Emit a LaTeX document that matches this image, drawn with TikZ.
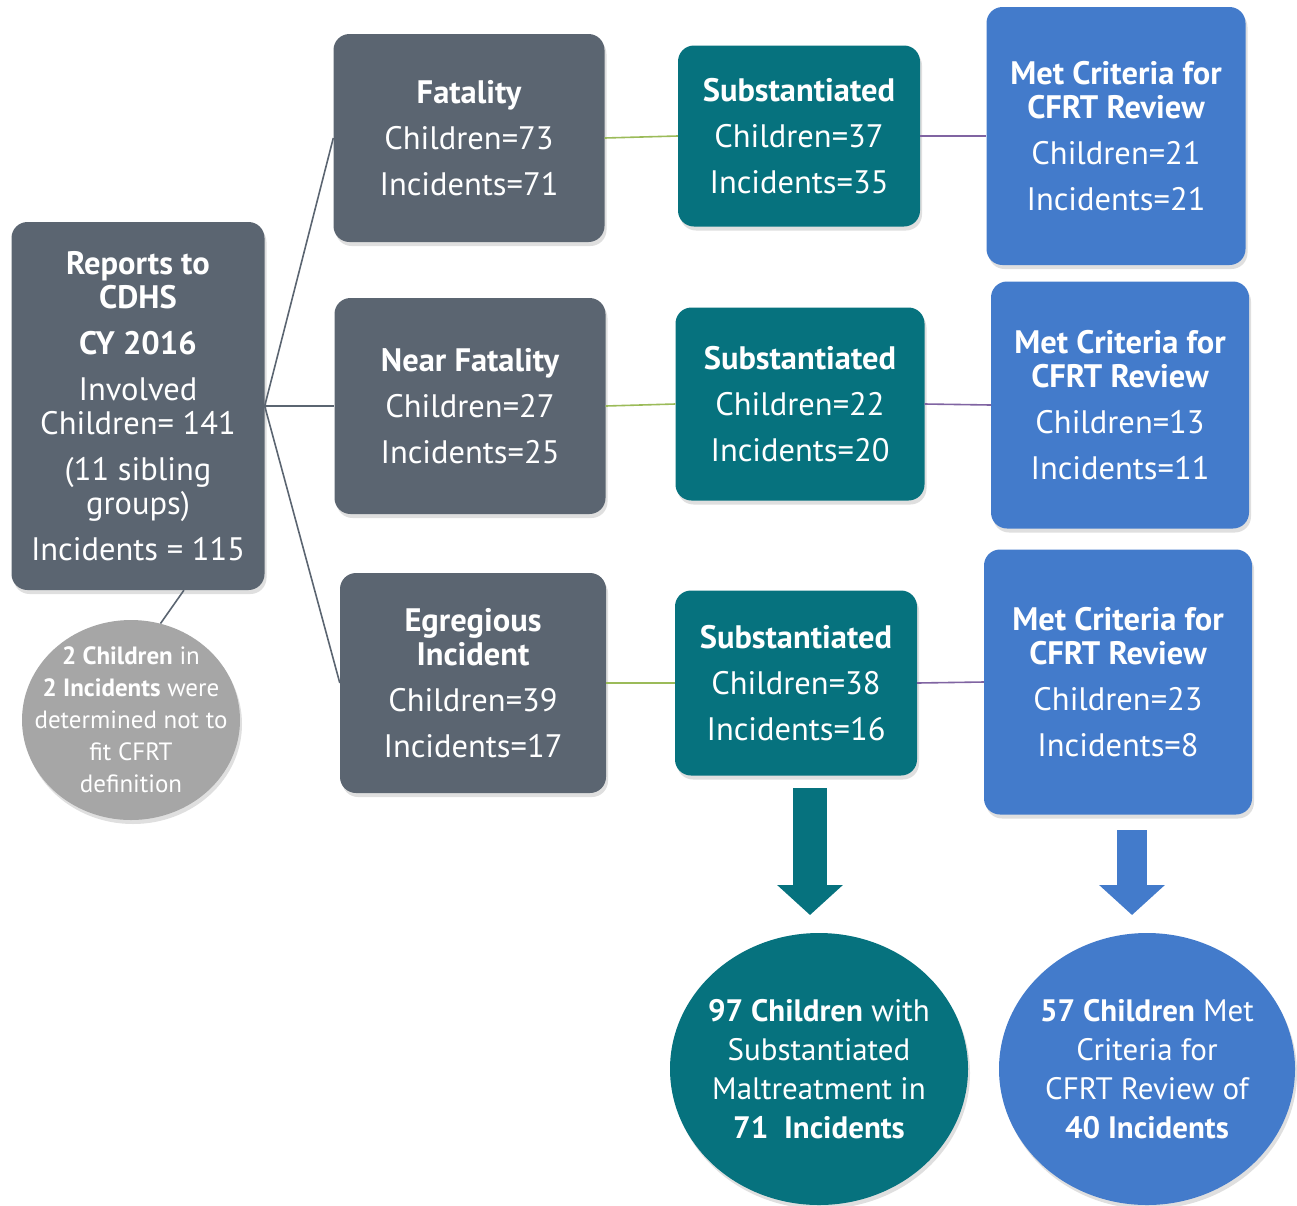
\documentclass[tikz,border=0pt]{standalone}
\usepackage{fontspec}
\setmainfont{PT Sans}
\usetikzlibrary{shapes.geometric,shadows,arrows.meta}
\definecolor{slate}{HTML}{5B6571}
\definecolor{teal}{HTML}{06727E}
\definecolor{cblue}{HTML}{437BCB}
\definecolor{cgrey}{HTML}{A6A6A6}
\definecolor{lgreen}{HTML}{9BBB59}
\definecolor{lpurple}{HTML}{8064A2}
\tikzset{
  box/.style={rectangle, rounded corners=16pt, text=white, align=center, inner sep=0pt,
    font=\fontsize{32.5}{34}\selectfont,
    drop shadow={shadow xshift=2pt, shadow yshift=-4pt, opacity=0.25}},
  slatebox/.style={box, fill=slate},
  tealbox/.style={box, fill=teal},
  bluebox/.style={box, fill=cblue},
  blob/.style={ellipse, text=white, align=center, inner sep=-30pt,
    drop shadow={shadow xshift=2pt, shadow yshift=-4pt, opacity=0.25}},
  trunk/.style={slate, line width=1.6pt},
  greenlink/.style={lgreen, line width=1.6pt},
  purplelink/.style={lpurple, line width=1.6pt},
  fatarrow/.style={line width=#1, -{Triangle[width=64pt,length=30pt]}},
}
\begin{document}
\begin{tikzpicture}[x=1pt,y=1pt]
\useasboundingbox (0,0) rectangle (1297,-1205);
% first column
\node[slatebox, minimum width=253, minimum height=368] (rep) at (138,-406)
  {\bfseries Reports to\\\bfseries CDHS\\[12pt]\bfseries CY 2016\\[12pt]Involved\\Children= 141\\[12pt](11 sibling\\groups)\\[12pt]Incidents = 115};
\node[blob, fill=cgrey, minimum width=218, minimum height=200, font=\fontsize{25}{32}\selectfont] (note) at (131,-720)
  {\textbf{2 Children} in\\\textbf{2 Incidents} were\\determined not to\\fit CFRT\\definition};
% second column
\node[slatebox, minimum width=271, minimum height=208] (fat) at (469,-138)
  {\bfseries Fatality\\[12pt]Children=73\\[12pt]Incidents=71};
\node[slatebox, minimum width=271, minimum height=216] (near) at (470,-406)
  {\bfseries Near Fatality\\[12pt]Children=27\\[12pt]Incidents=25};
\node[slatebox, minimum width=266, minimum height=220] (egr) at (473,-683)
  {\bfseries Egregious\\\bfseries Incident\\[12pt]Children=39\\[12pt]Incidents=17};
% third column
\node[tealbox, minimum width=242, minimum height=181] (sub1) at (799,-136)
  {\bfseries Substantiated\\[12pt]Children=37\\[12pt]Incidents=35};
\node[tealbox, minimum width=249, minimum height=193] (sub2) at (800,-404)
  {\bfseries Substantiated\\[12pt]Children=22\\[12pt]Incidents=20};
\node[tealbox, minimum width=242, minimum height=185] (sub3) at (796,-683)
  {\bfseries Substantiated\\[12pt]Children=38\\[12pt]Incidents=16};
% fourth column
\node[bluebox, minimum width=259, minimum height=258] (met1) at (1116,-136)
  {\bfseries Met Criteria for\\\bfseries CFRT Review\\[12pt]Children=21\\[12pt]Incidents=21};
\node[bluebox, minimum width=258, minimum height=247] (met2) at (1120,-405)
  {\bfseries Met Criteria for\\\bfseries CFRT Review\\[12pt]Children=13\\[12pt]Incidents=11};
\node[bluebox, minimum width=268, minimum height=265] (met3) at (1118,-682)
  {\bfseries Met Criteria for\\\bfseries CFRT Review\\[12pt]Children=23\\[12pt]Incidents=8};
% totals
\node[blob, fill=teal, minimum width=298, minimum height=272, font=\fontsize{31}{39}\selectfont] (totsub) at (819,-1069)
  {\textbf{97 Children} with\\Substantiated\\Maltreatment in\\\textbf{71\ \ Incidents}};
\node[blob, fill=cblue, minimum width=296, minimum height=272, font=\fontsize{31}{39}\selectfont] (totmet) at (1147,-1069)
  {\textbf{57 Children} Met\\Criteria for\\CFRT Review of\\\textbf{40 Incidents}};
% connectors
\draw[trunk] (rep.east) -- (fat.west);
\draw[trunk] (rep.east) -- (near.west);
\draw[trunk] (rep.east) -- (egr.west);
\draw[trunk] (rep.-76) -- (note.73);
\draw[greenlink] (fat.east) -- (sub1.west);
\draw[greenlink] (near.east) -- (sub2.west);
\draw[greenlink] (egr.east) -- (sub3.west);
\draw[purplelink] (sub1.east) -- (met1.west);
\draw[purplelink] (sub2.east) -- (met2.west);
\draw[purplelink] (sub3.east) -- (met3.west);
\draw[fatarrow=34pt, teal] (810,-788) -- (810,-915);
\draw[fatarrow=30pt, cblue] (1132,-830) -- (1132,-915);
\end{tikzpicture}
\end{document}
